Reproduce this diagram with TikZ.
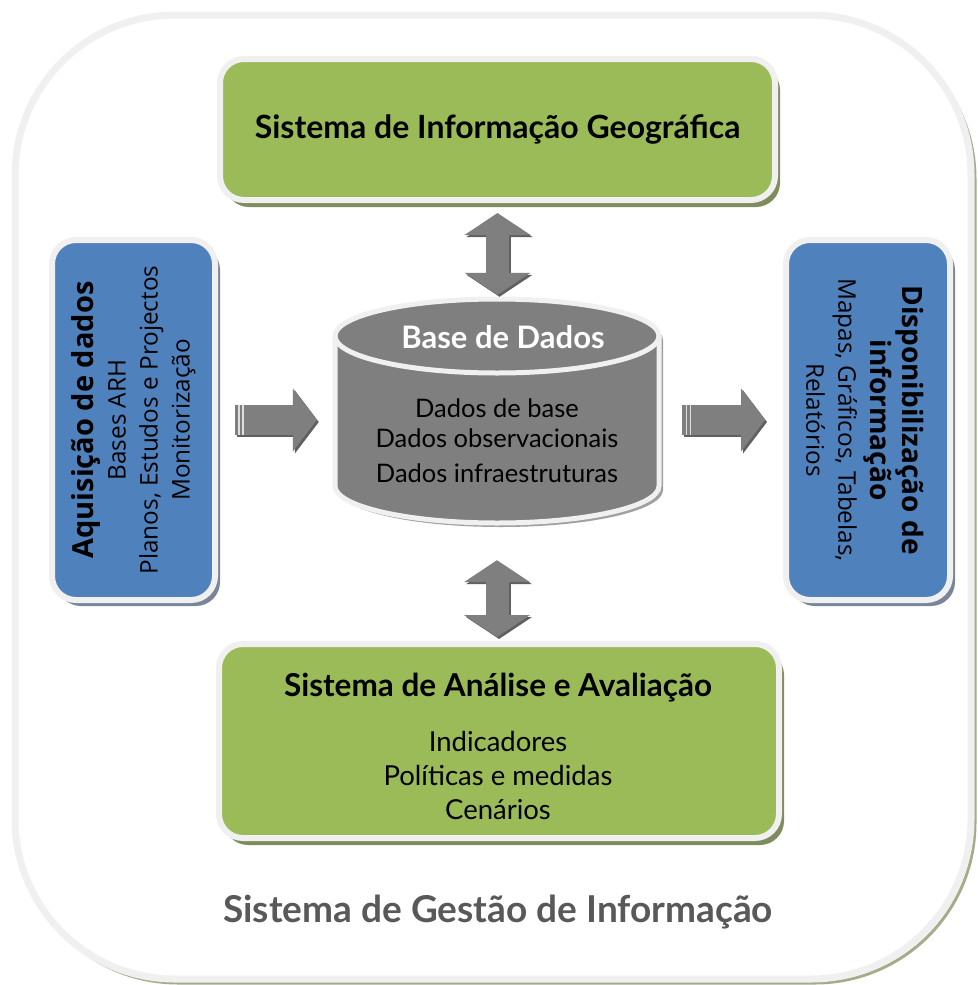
\documentclass[tikz,border=0pt]{standalone}
\usepackage{fontspec}
\setmainfont{Lato}
\newfontfamily\sidefont{Open Sans}
\usetikzlibrary{arrows.meta,shadows,calc}
\definecolor{boxgreen}{HTML}{9BBB59}
\definecolor{boxblue}{HTML}{4F81BD}
\definecolor{cylgray}{HTML}{7F7F7F}
\definecolor{rimc}{HTML}{F0F0F0}
\definecolor{greenshadow}{HTML}{7F8C5E}
\definecolor{blueshadow}{HTML}{7A8597}
\definecolor{grayshadow}{HTML}{A0A0A0}
\definecolor{arrowgray}{HTML}{7F7F7F}
\definecolor{arrowshadow}{HTML}{606060}
\definecolor{titlegray}{HTML}{595959}
\definecolor{frameshadow}{HTML}{A3AD8A}
\begin{document}
\begin{tikzpicture}[x=1pt,y=-1pt,
  rimbox/.style={draw=rimc, line width=6pt, rounded corners=24pt, inner sep=0pt},
  greenbox/.style={rimbox, fill=boxgreen, drop shadow={shadow xshift=5pt, shadow yshift=-7pt, fill=greenshadow, opacity=1}},
  bluebox/.style={rimbox, fill=boxblue, drop shadow={shadow xshift=5pt, shadow yshift=-6pt, fill=blueshadow, opacity=1}},
  blockarrow/.style={line width=23pt, draw=arrowgray, {Triangle[length=22pt,width=65pt]}-{Triangle[length=22pt,width=65pt]}},
  blockarrowsh/.style={line width=23pt, draw=arrowshadow, {Triangle[length=22pt,width=65pt]}-{Triangle[length=22pt,width=65pt]}},
  sidearrow/.style={line width=30pt, draw=arrowgray, -{Triangle[length=24pt,width=62pt]}},
  sidearrowsh/.style={line width=30pt, draw=arrowshadow, -{Triangle[length=24pt,width=62pt]}},
  stripe/.style={draw=white!75!arrowgray, line width=1.2pt},
  boldtitle/.style={font=\fontsize{32}{36}\selectfont\bfseries},
  sidetext/.style={align=center, font=\sidefont\fontsize{24.3}{32}\selectfont}
]
\useasboundingbox (0,0) rectangle (977,985);

% outer frame
\draw[frameshadow, line width=3pt, rounded corners=160pt] (18,19) rectangle (975,983);
\draw[rimc, line width=7pt, fill=white, rounded corners=160pt] (15,15) rectangle (971,979);

% boxes
\node[greenbox, minimum width=555pt, minimum height=141pt, boldtitle] (sig) at (497.5,129.5) {Sistema de Informação Geográfica};
\node[bluebox, minimum width=163pt, minimum height=360pt] (acq) at (133.5,420) {};
\node[sidetext, rotate=90] (acqtxt) at (133.5,420) {{\bfseries\fontsize{29}{32}\selectfont Aquisição de dados}\\Bases ARH\\Planos, Estudos e Projectos\\Monitorização};
\node[bluebox, minimum width=164pt, minimum height=360pt] (disp) at (868,420) {};
\node[sidetext, rotate=-90] (disptxt) at (865,420) {{\bfseries\fontsize{28}{33}\selectfont Disponibilização de}\\{\bfseries\fontsize{28}{33}\selectfont informação}\\Mapas, Gráficos, Tabelas,\\Relatórios};
\node[greenbox, minimum width=560pt, minimum height=194pt] (ana) at (499,741) {};
\node[font=\fontsize{31.5}{36}\selectfont\bfseries] (anatitle) at (498,688) {Sistema de Análise e Avaliação};
\node[align=center, font=\fontsize{27.5}{34}\selectfont] (anatxt) at (498,775) {Indicadores\\Políticas e medidas\\Cenários};

% cylinder
\fill[grayshadow] (339,340) -- (339,490) arc[start angle=180,end angle=0,x radius=162,y radius=37] -- (663,340) arc[start angle=0,end angle=-180,x radius=162,y radius=37] -- cycle;
\filldraw[fill=cylgray, draw=rimc, line width=5pt] (335,336) -- (335,486) arc[start angle=180,end angle=0,x radius=162,y radius=37] -- (659,336) arc[start angle=0,end angle=-180,x radius=162,y radius=37] -- cycle;
\draw[rimc, line width=5pt] (335,336) arc[start angle=180,end angle=0,x radius=162,y radius=37];
\node[minimum width=329pt, minimum height=229pt, inner sep=0pt] (cyl) at (497,411) {};
\node[text=white, font=\fontsize{31}{34}\selectfont\bfseries] (cyltitle) at (503,337) {Base de Dados};
\node[align=center, font=\fontsize{25.5}{30}\selectfont] (cyltxt) at (497,441) {Dados de base\\Dados observacionais\\[5pt]Dados infraestruturas};

% vertical double arrows
\draw[blockarrowsh, transform canvas={xshift=2pt,yshift=-2pt}, shorten <=10pt, shorten >=1.5pt] (sig.south) -- (sig.south |- cyl.north);
\draw[blockarrow, shorten <=10pt, shorten >=1.5pt] (sig.south) -- (sig.south |- cyl.north);
\draw[blockarrowsh, transform canvas={xshift=2pt,yshift=-2pt}, shorten <=34.5pt, shorten >=4pt] (cyl.south) -- (cyl.south |- ana.north);
\draw[blockarrow, shorten <=34.5pt, shorten >=4pt] (cyl.south) -- (cyl.south |- ana.north);

% horizontal arrows
\draw[sidearrowsh, transform canvas={xshift=2pt,yshift=-2pt}, shorten <=17pt, shorten >=15.5pt] (acq.east) -- (cyl.west |- acq.east);
\draw[sidearrow, shorten <=17pt, shorten >=15.5pt] (acq.east) -- (cyl.west |- acq.east);
\draw[stripe] ($(acq.east)+(21,-15)$) -- ($(acq.east)+(21,15)$);
\draw[stripe] ($(acq.east)+(25,-15)$) -- ($(acq.east)+(25,15)$);
\draw[sidearrowsh, transform canvas={xshift=2pt,yshift=-2pt}, shorten <=20.5pt, shorten >=18pt] (cyl.east |- disp.west) -- (disp.west);
\draw[sidearrow, shorten <=20.5pt, shorten >=18pt] (cyl.east |- disp.west) -- (disp.west);
\draw[stripe] ($(cyl.east |- disp.west)+(24.5,-15)$) -- ($(cyl.east |- disp.west)+(24.5,15)$);
\draw[stripe] ($(cyl.east |- disp.west)+(28.5,-15)$) -- ($(cyl.east |- disp.west)+(28.5,15)$);

% overall title
\node[text=titlegray, font=\fontsize{37}{40}\selectfont\bfseries] (sgi) at (498,912) {Sistema de Gestão de Informação};
\end{tikzpicture}
\end{document}
